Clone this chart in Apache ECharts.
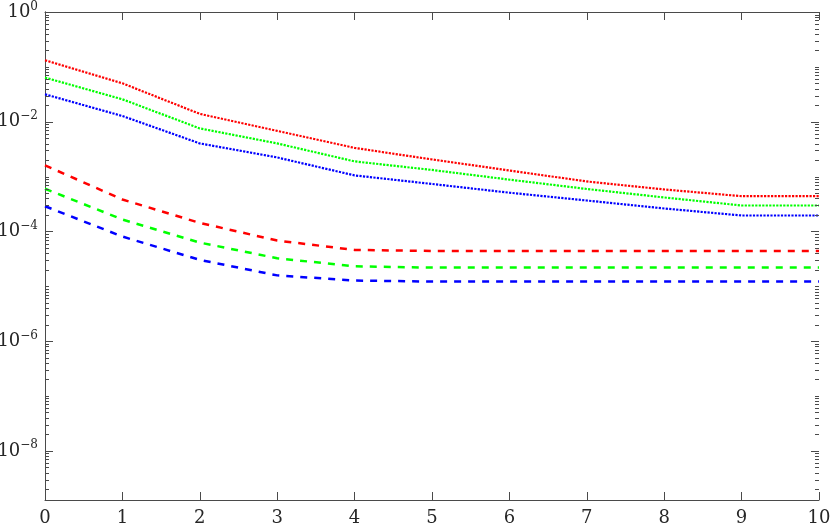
<!DOCTYPE html>
<html>
<head>
<meta charset="utf-8">
<script src="https://cdn.jsdelivr.net/npm/echarts@6/dist/echarts.min.js"></script>
<style>
    html, body { margin: 0; padding: 0; background: #fff; }
    #chart { width: 830px; height: 526px; }
</style>
</head>
<body>
<div id="chart"></div>
<script>
const xValues = [0, 1, 2, 3, 4, 5, 6, 7, 8, 9, 10];

// dotted curves
const redDotted = [0.132, 0.0501, 0.0139, 0.00681, 0.00333, 0.00205, 0.00129, 8.14e-4, 5.82e-4, 4.39e-4, 4.39e-4];
const greenDotted = [0.0637, 0.0256, 0.00755, 0.00402, 0.00189, 0.00132, 8.79e-4, 5.94e-4, 4.16e-4, 2.97e-4, 2.97e-4];
const blueDotted = [0.0316, 0.0127, 0.00402, 0.00223, 0.00105, 7.33e-4, 5.08e-4, 3.66e-4, 2.62e-4, 1.95e-4, 1.95e-4];

// dashed curves
const redDashed = [1.60e-3, 3.82e-4, 1.43e-4, 6.81e-5, 4.6e-5, 4.4e-5, 4.4e-5, 4.4e-5, 4.4e-5, 4.4e-5, 4.4e-5];
const greenDashed = [5.99e-4, 1.65e-4, 6.26e-5, 3.24e-5, 2.31e-5, 2.19e-5, 2.19e-5, 2.19e-5, 2.19e-5, 2.19e-5, 2.19e-5];
const blueDashed = [2.88e-4, 8.06e-5, 3.03e-5, 1.58e-5, 1.27e-5, 1.22e-5, 1.22e-5, 1.22e-5, 1.22e-5, 1.22e-5, 1.22e-5];

// y axis
const yMin = 1.27e-9;
const yMax = 1;
const yLabelExponents = [0, -2, -4, -6, -8];

const axisColor = '#4a4a4a';
const textColor = '#262626';
const fontFamily = 'DejaVu Serif';

function pairs(values) {
    return xValues.map(function (x, i) {
        return [x, values[i]];
    });
}

function lineSeries(name, values, color, width, dash) {
    return {
        name: name,
        type: 'line',
        data: pairs(values),
        showSymbol: false,
        symbol: 'none',
        silent: true,
        lineStyle: {
            color: color,
            width: width,
            type: dash,
            cap: 'butt'
        },
        z: 3
    };
}

// log-style ticks on left and right edges (major at labelled decades)
function buildTickData() {
    let ticks = [];
    for (let e = -9; e <= 0; e++) {
        for (let m = 1; m <= 9; m++) {
            let v = m * Math.pow(10, e);
            if (v < yMin || v > yMax) continue;
            let major = (m === 1 && yLabelExponents.indexOf(e) >= 0) ? 1 : 0;
            ticks.push([0, v, major]);
        }
    }
    return ticks;
}

function yLabel(value) {
    let l = Math.log10(value);
    let e = Math.round(l);
    if (Math.abs(l - e) > 1e-6 || yLabelExponents.indexOf(e) < 0) return '';
    return '{b|10}{s|' + (e === 0 ? '0' : '\u2212' + (-e)) + '}';
}

let chart = echarts.init(document.getElementById('chart'), null, { renderer: 'canvas' });

let option = {
    animation: false,
    backgroundColor: '#fff',
    grid: {
        left: 45,
        right: 11,
        top: 12,
        bottom: 26,
        containLabel: false,
        outerBoundsMode: 'none'
    },
    xAxis: [{
        type: 'value',
        min: 0,
        max: 10,
        interval: 1,
        position: 'bottom',
        axisLine: { show: true, lineStyle: { color: axisColor, width: 1 } },
        axisTick: { show: true, inside: true, length: 8, lineStyle: { color: axisColor } },
        axisLabel: { color: textColor, fontFamily: fontFamily, fontSize: 18, margin: 9 },
        splitLine: { show: false }
    }, {
        type: 'value',
        min: 0,
        max: 10,
        interval: 1,
        position: 'top',
        axisLine: { show: true, lineStyle: { color: axisColor, width: 1 } },
        axisTick: { show: true, inside: true, length: 8, lineStyle: { color: axisColor } },
        axisLabel: { show: false },
        splitLine: { show: false }
    }],
    yAxis: [{
        type: 'log',
        logBase: 10,
        min: yMin,
        max: yMax,
        position: 'left',
        axisLine: { show: true, lineStyle: { color: axisColor, width: 1 } },
        axisTick: { show: false },
        axisLabel: {
            margin: 7,
            showMinLabel: false,
            formatter: yLabel,
            rich: {
                b: { color: textColor, fontFamily: fontFamily, fontSize: 18 },
                s: { color: textColor, fontFamily: fontFamily, fontSize: 12, padding: [0, 0, 11, 0] }
            }
        },
        splitLine: { show: false },
        minorTick: { show: false }
    }, {
        type: 'log',
        logBase: 10,
        min: yMin,
        max: yMax,
        position: 'right',
        axisLine: { show: true, lineStyle: { color: axisColor, width: 1 } },
        axisTick: { show: false },
        axisLabel: { show: false },
        splitLine: { show: false }
    }],
    series: [
        lineSeries('red dotted', redDotted, '#ff0000', 2.2, [2.2, 1.3]),
        lineSeries('green dotted', greenDotted, '#00ff00', 2.2, [2.2, 1.3]),
        lineSeries('blue dotted', blueDotted, '#0000ff', 2.2, [2.2, 1.3]),
        lineSeries('red dashed', redDashed, '#ff0000', 2.5, [7, 7]),
        lineSeries('green dashed', greenDashed, '#00ff00', 2.5, [7, 7]),
        lineSeries('blue dashed', blueDashed, '#0000ff', 2.5, [7, 7]),
        {
            name: 'yticks',
            type: 'custom',
            silent: true,
            clip: false,
            data: buildTickData(),
            encode: { x: 0, y: 1 },
            renderItem: function (params, api) {
                let v = api.value(1);
                let len = api.value(2) ? 8 : 4;
                let left = api.coord([0, v]);
                let right = api.coord([10, v]);
                let y = Math.round(left[1]) + 0.5;
                return {
                    type: 'group',
                    children: [{
                        type: 'line',
                        shape: { x1: left[0], y1: y, x2: left[0] + len, y2: y },
                        style: { stroke: axisColor, lineWidth: 1 }
                    }, {
                        type: 'line',
                        shape: { x1: right[0], y1: y, x2: right[0] - len, y2: y },
                        style: { stroke: axisColor, lineWidth: 1 }
                    }]
                };
            },
            z: 4
        }
    ]
};

chart.setOption(option);
</script>
</body>
</html>
